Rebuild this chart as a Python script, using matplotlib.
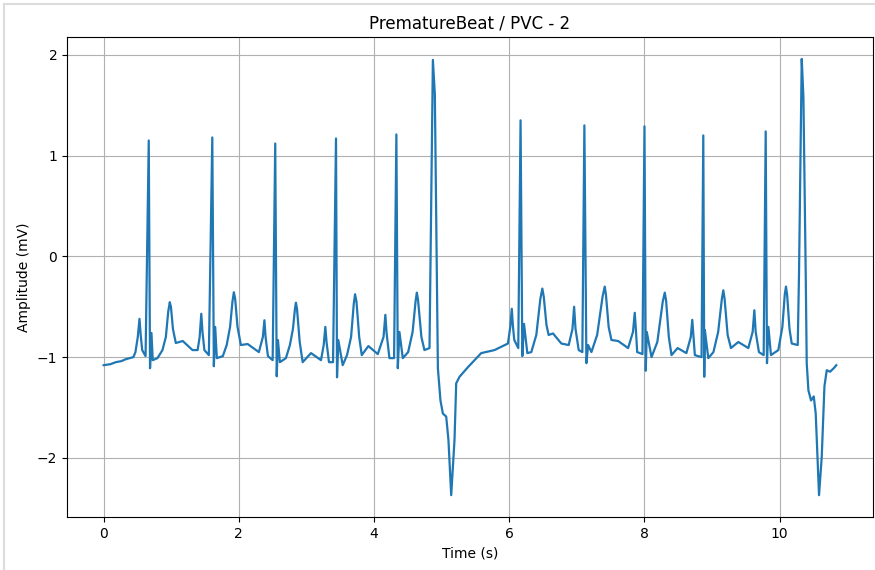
import matplotlib.pyplot as plt
from matplotlib.lines import Line2D

# ECG trace (time in s, amplitude in mV), one line per wave
time_s = [
    0.00, 0.10, 0.18, 0.26, 0.33, 0.44, 0.47,                                # baseline
    0.505, 0.53, 0.548, 0.57, 0.62,                                          # P1
    0.667, 0.686, 0.707, 0.726, 0.796, 0.87,                                 # QRS1
    0.92, 0.955, 0.978, 0.995, 1.025, 1.067, 1.17, 1.314, 1.39,              # T1
    1.42, 1.444, 1.462, 1.49, 1.556,                                         # P2
    1.607, 1.63, 1.65, 1.674, 1.763, 1.82,                                   # QRS2
    1.87, 1.905, 1.926, 1.945, 1.98, 2.03, 2.13, 2.296,                      # T2
    2.355, 2.378, 2.395, 2.43, 2.50,                                         # P3
    2.538, 2.56, 2.578, 2.607, 2.696, 2.755,                                 # QRS3
    2.80, 2.83, 2.844, 2.86, 2.90, 2.944, 3.067, 3.215,                      # T3
    3.255, 3.279, 3.297, 3.333, 3.393,                                       # P4
    3.437, 3.452, 3.471, 3.536, 3.60,                                        # QRS4
    3.66, 3.70, 3.719, 3.74, 3.78, 3.818, 3.916, 4.055,                      # T4
    4.14, 4.167, 4.185, 4.227, 4.296,                                        # P5
    4.33, 4.351, 4.375, 4.425, 4.504,                                        # QRS5
    4.57, 4.615, 4.633, 4.65, 4.70, 4.745, 4.82,                             # T5
    4.844, 4.87, 4.899, 4.933, 4.944, 4.982, 5.018, 5.067, 5.10, 5.141,      # PVC1
    5.19, 5.215, 5.264, 5.388, 5.585, 5.782, 5.98,                           # recovery
    6.015, 6.037, 6.055, 6.074, 6.133,                                       # P6
    6.167, 6.193, 6.218, 6.267, 6.326,                                       # QRS6
    6.40, 6.46, 6.489, 6.51, 6.55, 6.582, 6.647, 6.77, 6.879,                # T6
    6.935, 6.959, 6.98, 7.027, 7.081,                                        # P7
    7.111, 7.141, 7.166, 7.215,                                              # QRS7
    7.30, 7.38, 7.412, 7.43, 7.47, 7.511, 7.61, 7.758,                       # T7
    7.83, 7.856, 7.875, 7.892, 7.97,                                         # P8
    8.00, 8.019, 8.034, 8.104,                                               # QRS8
    8.19, 8.27, 8.30, 8.32, 8.36, 8.40, 8.49, 8.62,                          # T8
    8.685, 8.707, 8.725, 8.745, 8.844,                                       # P9
    8.87, 8.884, 8.893, 8.944, 9.02,                                         # QRS9
    9.09, 9.145, 9.166, 9.185, 9.23, 9.279, 9.388, 9.536,                    # T9
    9.60, 9.625, 9.645, 9.693, 9.763,                                        # P10
    9.793, 9.812, 9.833, 9.871, 9.98,                                        # QRS10
    10.04, 10.075, 10.093, 10.11, 10.145, 10.178, 10.267,                    # T10
    10.286, 10.326, 10.351, 10.385, 10.40, 10.425, 10.464, 10.504, 10.533,   # PVC2
    10.582, 10.622, 10.662, 10.696, 10.745, 10.80, 10.837,                   # recovery
]
amplitude_mv = [
    -1.08, -1.07, -1.05, -1.04, -1.02, -1.00, -0.95,
    -0.80, -0.62, -0.78, -0.93, -0.99,
    1.15, -1.11, -0.76, -1.03, -1.01, -0.93,
    -0.80, -0.55, -0.455, -0.50, -0.72, -0.86, -0.84, -0.93, -0.93,
    -0.80, -0.57, -0.75, -0.93, -0.98,
    1.18, -1.09, -0.70, -1.01, -0.99, -0.88,
    -0.70, -0.45, -0.356, -0.42, -0.70, -0.88, -0.87, -0.95,
    -0.80, -0.634, -0.80, -0.99, -1.03,
    1.12, -1.19, -0.83, -1.05, -1.01, -0.88,
    -0.72, -0.52, -0.46, -0.52, -0.85, -1.05, -0.96, -1.03,
    -0.88, -0.70, -0.85, -1.05, -1.05,
    1.17, -1.20, -0.83, -1.08, -0.98,
    -0.80, -0.47, -0.376, -0.45, -0.80, -0.98, -0.89, -0.97,
    -0.80, -0.58, -0.76, -1.01, -1.01,
    1.21, -1.11, -0.75, -1.01, -0.95,
    -0.75, -0.44, -0.36, -0.43, -0.80, -0.93, -0.91,
    0.49, 1.95, 1.61, -0.50, -1.11, -1.43, -1.56, -1.59, -1.82, -2.37,
    -1.82, -1.26, -1.195, -1.10, -0.96, -0.93, -0.865,
    -0.70, -0.52, -0.70, -0.83, -0.91,
    1.35, -0.99, -0.67, -0.96, -0.95,
    -0.78, -0.42, -0.32, -0.40, -0.68, -0.78, -0.765, -0.865, -0.88,
    -0.72, -0.50, -0.72, -0.93, -0.95,
    1.30, -1.06, -0.88, -0.95,
    -0.78, -0.40, -0.30, -0.38, -0.70, -0.83, -0.84, -0.91,
    -0.75, -0.56, -0.75, -0.95, -0.97,
    1.29, -1.135, -0.75, -1.00,
    -0.85, -0.45, -0.36, -0.44, -0.80, -0.98, -0.91, -0.96,
    -0.80, -0.63, -0.80, -0.98, -1.00,
    1.20, -1.195, -0.73, -1.01, -0.95,
    -0.75, -0.42, -0.337, -0.42, -0.78, -0.91, -0.85, -0.91,
    -0.75, -0.535, -0.75, -0.95, -0.98,
    1.24, -1.06, -0.70, -0.98, -0.93,
    -0.70, -0.38, -0.30, -0.38, -0.72, -0.865, -0.88,
    -0.17, 1.96, 1.58, -0.17, -1.06, -1.33, -1.43, -1.39, -1.56,
    -2.37, -1.99, -1.29, -1.13, -1.145, -1.11, -1.08,
]

title = "PrematureBeat / PVC - 2"


def plot_ecg():
    """Draw the ECG trace with grid and labels."""
    fig = plt.figure(figsize=(8.75, 5.7), dpi=100)
    ax = fig.add_axes([0.0766, 0.093, 0.921, 0.842])
    ax.plot(time_s, amplitude_mv, color="#1f77b4", linewidth=1.6)
    ax.set_title(title)
    ax.set_xlabel("Time (s)")
    ax.set_ylabel("Amplitude (mV)")
    ax.grid(True)

    # light frame left by the screenshot
    fig.add_artist(Line2D([0.005, 0.005], [0.0, 0.993], transform=fig.transFigure,
                          color="#dcdcdc", linewidth=1.5))
    fig.add_artist(Line2D([0.005, 1.0], [0.993, 0.993], transform=fig.transFigure,
                          color="#dcdcdc", linewidth=1.5))

    fig.savefig("out.png", dpi=100)


if __name__ == "__main__":
    plot_ecg()
